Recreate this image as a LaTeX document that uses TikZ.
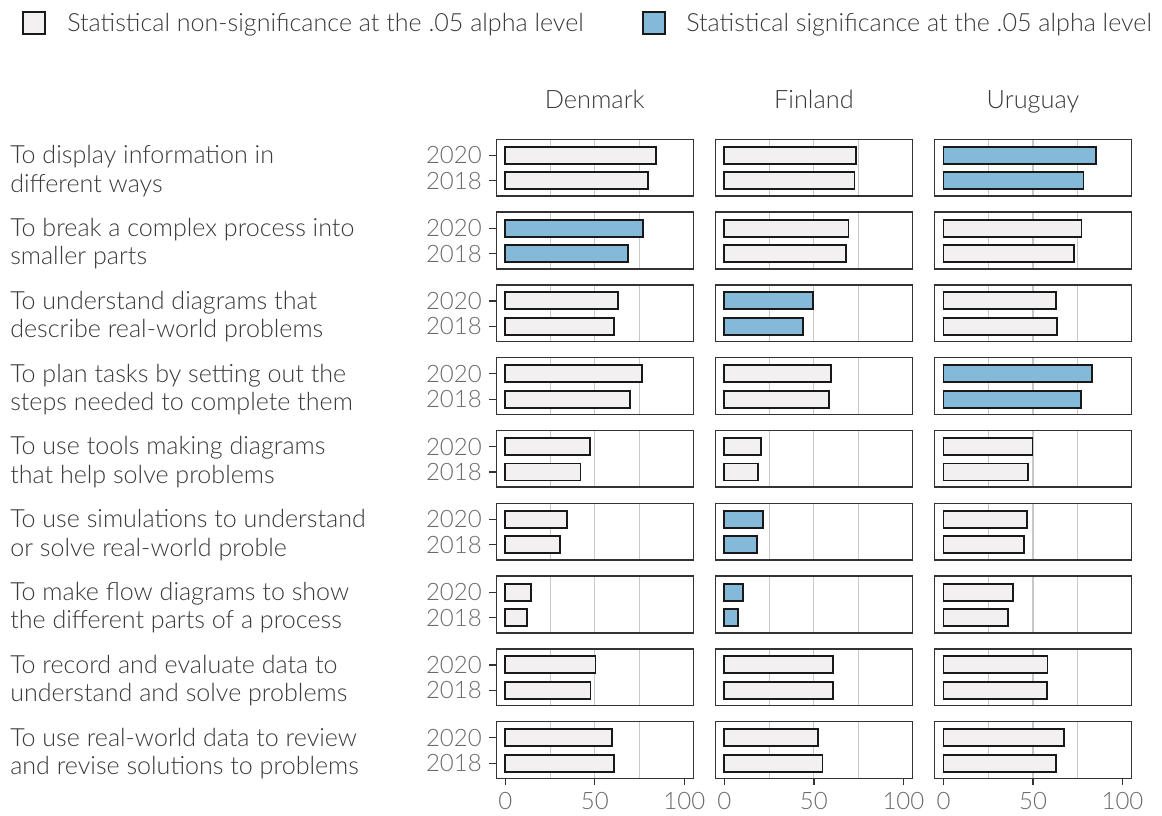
\documentclass[tikz,border=0pt]{standalone}
\usepackage{fontspec}
\setmainfont{Lato Light}
\usepackage{tikz}
\definecolor{nsgrey}{HTML}{F2F0F0}
\definecolor{sigblue}{HTML}{85B9DA}
\definecolor{textdark}{HTML}{3A3A3A}
\definecolor{textgrey}{HTML}{6A6A6A}
\definecolor{framegrey}{HTML}{333333}
\definecolor{gridgrey}{HTML}{C8C8C8}
\tikzset{
  gridline/.style={draw=gridgrey, line width=0.8pt},
  bar/.style={draw=black!90, line width=1.4pt},
  frame/.style={draw=framegrey, line width=1.1pt},
  axtick/.style={draw=framegrey, line width=0.9pt},
  rowlabel/.style={anchor=west, align=left, inner sep=0pt, text=textdark, font=\fontsize{18.8}{21.4}\selectfont},
  yearlabel/.style={anchor=east, inner sep=0pt, text=textgrey, font=\fontsize{18}{20}\selectfont},
  axlabel/.style={inner sep=0pt, text=textgrey, font=\fontsize{18}{20}\selectfont},
  header/.style={anchor=base, inner sep=0pt, text=textdark, font=\fontsize{19}{22}\selectfont},
  legtext/.style={anchor=base west, inner sep=0pt, text=textdark, font=\fontsize{18.8}{22}\selectfont}
}
% #1 zero x, #2 top y, #3 2020 value, #4 2018 value, #5 #6 fills
\newcommand{\panel}[6]{%
  \foreach \g in {25,50,75}
    \draw[gridline] ({#1+\g*1.79},#2) -- ({#1+\g*1.79},{#2+56.7});
  \draw[bar,fill=#5] (#1,{#2+7.5}) rectangle ({#1+#3*1.79},{#2+24.5});
  \draw[bar,fill=#6] (#1,{#2+33}) rectangle ({#1+#4*1.79},{#2+50});
  \draw[frame] ({#1-9},#2) rectangle ({#1+188},{#2+56.7});
}

\begin{document}
\begin{tikzpicture}[x=0.75pt,y=-0.75pt]
    \useasboundingbox (0,0) rectangle (1162,815);

    % legend
    \draw[bar,fill=nsgrey] (23,12) rectangle (45,34);
    \node[legtext] (lns) at (67,31) {Statistical non-significance at the .05 alpha level};
    \draw[bar,fill=sigblue] (643,12) rectangle (665,34);
    \node[legtext] (lsig) at (686,31) {Statistical significance at the .05 alpha level};

    % countries
    \node[header] (dk) at (594.8,108) {Denmark};
    \node[header] (fi) at (813.9,108) {Finland};
    \node[header] (uy) at (1033,108) {Uruguay};

    % Denmark
    \panel{505.3}{139.3}{84.2}{79.9}{nsgrey}{nsgrey}
    \panel{505.3}{212.1}{77.1}{68.3}{sigblue}{sigblue}
    \panel{505.3}{284.9}{63.0}{60.7}{nsgrey}{nsgrey}
    \panel{505.3}{357.7}{76.2}{69.8}{nsgrey}{nsgrey}
    \panel{505.3}{430.5}{47.4}{42.0}{nsgrey}{nsgrey}
    \panel{505.3}{503.3}{34.5}{30.5}{nsgrey}{nsgrey}
    \panel{505.3}{576.1}{14.3}{12.2}{nsgrey}{nsgrey}
    \panel{505.3}{648.9}{50.4}{47.6}{nsgrey}{nsgrey}
    \panel{505.3}{721.7}{59.5}{60.8}{nsgrey}{nsgrey}

    % Finland
    \panel{724.4}{139.3}{73.5}{72.7}{nsgrey}{nsgrey}
    \panel{724.4}{212.1}{69.3}{67.7}{nsgrey}{nsgrey}
    \panel{724.4}{284.9}{49.7}{44.1}{sigblue}{sigblue}
    \panel{724.4}{357.7}{59.5}{58.6}{nsgrey}{nsgrey}
    \panel{724.4}{430.5}{20.6}{19.0}{nsgrey}{nsgrey}
    \panel{724.4}{503.3}{21.6}{18.1}{sigblue}{sigblue}
    \panel{724.4}{576.1}{10.6}{7.5}{sigblue}{sigblue}
    \panel{724.4}{648.9}{60.5}{60.5}{nsgrey}{nsgrey}
    \panel{724.4}{721.7}{52.1}{54.8}{nsgrey}{nsgrey}

    % Uruguay
    \panel{943.5}{139.3}{85.2}{78.2}{sigblue}{sigblue}
    \panel{943.5}{212.1}{77.1}{72.8}{nsgrey}{nsgrey}
    \panel{943.5}{284.9}{62.8}{63.2}{nsgrey}{nsgrey}
    \panel{943.5}{357.7}{83.0}{76.9}{sigblue}{sigblue}
    \panel{943.5}{430.5}{49.7}{47.3}{nsgrey}{nsgrey}
    \panel{943.5}{503.3}{46.8}{44.9}{nsgrey}{nsgrey}
    \panel{943.5}{576.1}{38.6}{36.0}{nsgrey}{nsgrey}
    \panel{943.5}{648.9}{58.1}{57.6}{nsgrey}{nsgrey}
    \panel{943.5}{721.7}{67.2}{62.6}{nsgrey}{nsgrey}

    % row labels
    \node[rowlabel] (r1) at (10,171) {To display information in\\different ways};
    \node[rowlabel] (r2) at (10,243.8) {To break a complex process into\\smaller parts};
    \node[rowlabel] (r3) at (10,316.6) {To understand diagrams that\\describe real-world problems};
    \node[rowlabel] (r4) at (10,389.4) {To plan tasks by setting out the\\steps needed to complete them};
    \node[rowlabel] (r5) at (10,462.2) {To use tools making diagrams\\that help solve problems};
    \node[rowlabel] (r6) at (10,535) {To use simulations to understand\\or solve real-world proble};
    \node[rowlabel] (r7) at (10,607.8) {To make flow diagrams to show\\the different parts of a process};
    \node[rowlabel] (r8) at (10,680.6) {To record and evaluate data to\\understand and solve problems};
    \node[rowlabel] (r9) at (10,753.4) {To use real-world data to review\\and revise solutions to problems};

    % years
    \foreach \t [count=\i] in {139.3,212.1,284.9,357.7,430.5,503.3,576.1,648.9,721.7} {
      \node[yearlabel] (ya\i) at (482,{\t+16}) {2020};
      \node[yearlabel] (yb\i) at (482,{\t+41.5}) {2018};
      \draw[axtick] (489,{\t+16}) -- (496,{\t+16});
      \draw[axtick] (489,{\t+41.5}) -- (496,{\t+41.5});
    }

    % x axis
    \foreach \z [count=\c] in {505.3,724.4,943.5} {
      \foreach \v in {0,50,100} {
        \draw[axtick] ({\z+\v*1.79},778.4) -- ({\z+\v*1.79},785);
        \node[axlabel] (ax\c-\v) at ({\z+\v*1.79},801) {\v};
      }
    }
\end{tikzpicture}
\end{document}
